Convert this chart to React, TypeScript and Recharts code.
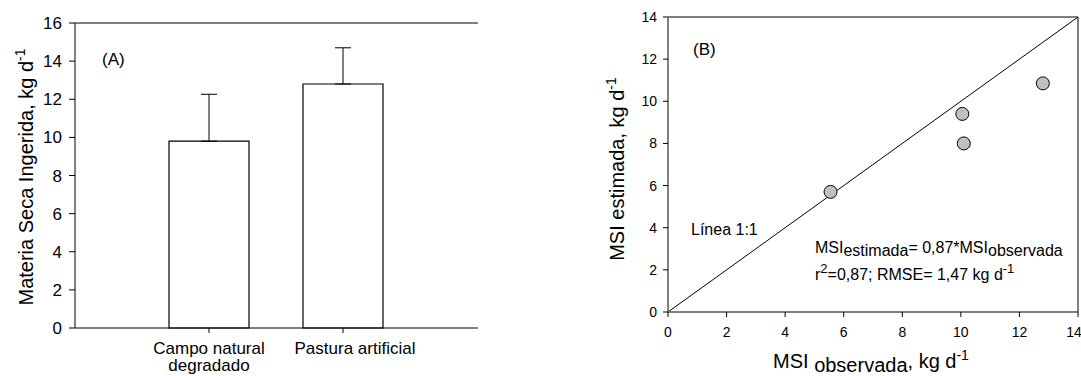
import React from 'react';
import {
  BarChart,
  Bar,
  ErrorBar,
  ScatterChart,
  Scatter,
  XAxis,
  YAxis,
  ReferenceLine,
} from 'recharts';

// panel A: dry matter intake per pasture type
const categories = ['Campo natural\ndegradado', 'Pastura artificial'];
const intake = [9.8, 12.8];
const intakeErr = [2.46, 1.9];
const intakeTicks = [0, 2, 4, 6, 8, 10, 12, 14, 16];

// panel B: observed vs estimated intake
const observed = [5.55, 10.05, 10.1, 12.8];
const estimated = [5.7, 9.4, 8.0, 10.85];
const msiTicks = [0, 2, 4, 6, 8, 10, 12, 14];

const barData = categories.map((name, i) => ({
  name,
  value: intake[i],
  err: [0, intakeErr[i]],
}));
const points = observed.map((x, i) => ({ x, y: estimated[i] }));

const FONT = '"Liberation Sans", Arial, sans-serif';

function CategoryTick({ x, y, payload, index }: any) {
  const lines = String(payload.value).split('\n');
  const shift = index === 1 ? 12 : 0;
  return (
    <text x={x + shift} y={y} textAnchor="middle" fontSize={17} fontFamily={FONT} fill="#000">
      {lines.map((line, i) => (
        <tspan key={i} x={x + shift} dy={i === 0 ? 19 : 17}>
          {line}
        </tspan>
      ))}
    </text>
  );
}

function Marker({ cx, cy }: any) {
  return <circle cx={cx} cy={cy} r={6.5} fill="#c0c0c0" stroke="#000" strokeWidth={1} />;
}

function PanelA() {
  return (
    <BarChart
      width={500}
      height={376}
      data={barData}
      margin={{ top: 23, right: 22, bottom: 0, left: 0 }}
      style={{ position: 'absolute', left: 0, top: 0 }}
    >
      <XAxis
        dataKey="name"
        type="category"
        padding={{ left: 67, right: 68 }}
        height={48}
        tickSize={5}
        interval={0}
        tick={<CategoryTick />}
        axisLine={{ stroke: '#000' }}
        tickLine={{ stroke: '#000' }}
      />
      <YAxis
        domain={[0, 16]}
        ticks={intakeTicks}
        width={75}
        tickSize={6}
        tickMargin={7}
        tick={{ fill: '#000', fontSize: 17, fontFamily: FONT }}
        axisLine={{ stroke: '#000' }}
        tickLine={{ stroke: '#000' }}
      />
      <YAxis
        yAxisId="frame"
        orientation="right"
        width={0}
        domain={[0, 16]}
        tick={false}
        tickLine={false}
        axisLine={{ stroke: '#000' }}
      />
      <ReferenceLine y={16} stroke="#000" />
      <Bar dataKey="value" fill="#fff" stroke="#000" strokeWidth={1.2} barSize={80} isAnimationActive={false}>
        <ErrorBar dataKey="err" width={8} stroke="#000" strokeWidth={1} direction="y" />
      </Bar>
    </BarChart>
  );
}

function PanelB() {
  return (
    <ScatterChart
      width={521}
      height={376}
      margin={{ top: 17, right: 3, bottom: 34, left: 0 }}
      style={{ position: 'absolute', left: 560, top: 0 }}
    >
      <XAxis
        type="number"
        dataKey="x"
        domain={[0, 14]}
        ticks={msiTicks}
        height={30}
        tickSize={5}
        tickMargin={10}
        tick={{ fill: '#000', fontSize: 14, fontFamily: FONT }}
        axisLine={{ stroke: '#000' }}
        tickLine={{ stroke: '#000' }}
      />
      <YAxis
        type="number"
        dataKey="y"
        domain={[0, 14]}
        ticks={msiTicks}
        width={108}
        tickSize={5}
        tickMargin={6}
        tick={{ fill: '#000', fontSize: 14, fontFamily: FONT }}
        axisLine={{ stroke: '#808080', strokeWidth: 2 }}
        tickLine={{ stroke: '#000' }}
      />
      <ReferenceLine y={14} stroke="#000" />
      <ReferenceLine x={14} stroke="#000" />
      <Scatter data={points} shape={<Marker />} isAnimationActive={false} />
      <ReferenceLine segment={[{ x: 0, y: 0 }, { x: 14, y: 14 }]} stroke="#000" strokeWidth={1} />
    </ScatterChart>
  );
}

function Annotations() {
  return (
    <svg
      width={1081}
      height={376}
      style={{ position: 'absolute', left: 0, top: 0, pointerEvents: 'none' }}
      fontFamily={FONT}
      fill="#000"
    >
      <text x={102} y={65} fontSize={17}>(A)</text>
      <text x={33} y={177} fontSize={20} textAnchor="middle" transform="rotate(-90 33 177)">
        Materia Seca Ingerida, kg d<tspan fontSize={14} dy={-8}>-1</tspan>
      </text>

      <text x={693} y={55} fontSize={17}>(B)</text>
      <text x={691} y={235} fontSize={16}>Línea 1:1</text>
      <text x={815} y={253} fontSize={16}>
        MSI<tspan dy={3}>estimada</tspan>
        <tspan dy={-3}>= 0,87*MSI</tspan>
        <tspan dy={3}>observada</tspan>
      </text>
      <text x={815} y={280} fontSize={16}>
        r<tspan fontSize={13} dy={-7}>2</tspan>
        <tspan dy={7}>=0,87; RMSE= 1,47 kg d</tspan>
        <tspan fontSize={13} dy={-7}>-1</tspan>
      </text>
      <text x={624} y={169} fontSize={20} textAnchor="middle" transform="rotate(-90 624 169)">
        MSI estimada, kg d<tspan fontSize={14} dy={-8}>-1</tspan>
      </text>
      <text x={773} y={368} fontSize={20}>
        MSI <tspan dy={4}>observada</tspan>
        <tspan dy={-4}>, kg d</tspan>
        <tspan fontSize={14} dy={-8}>-1</tspan>
      </text>
    </svg>
  );
}

export default function App() {
  return (
    <div style={{ position: 'absolute', left: 0, top: 0, width: 1081, height: 376, background: '#fff', overflow: 'hidden' }}>
      <PanelA />
      <PanelB />
      <Annotations />
    </div>
  );
}
